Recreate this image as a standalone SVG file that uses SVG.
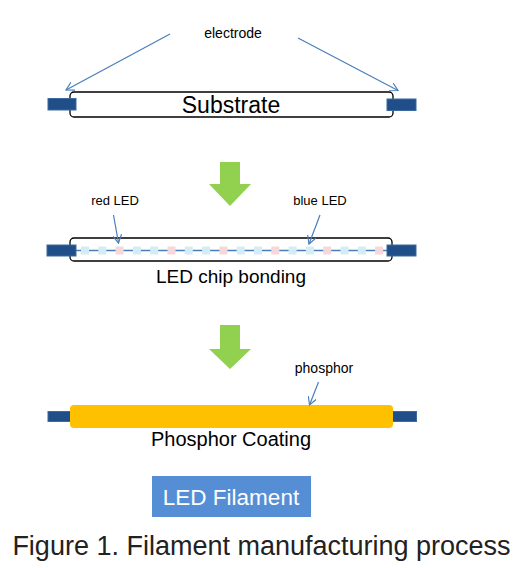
<svg xmlns="http://www.w3.org/2000/svg" width="518" height="568" viewBox="0 0 518 568">
<defs>
<marker id="arr" viewBox="0 0 10 10" refX="9" refY="5" markerWidth="9" markerHeight="9" markerUnits="userSpaceOnUse" orient="auto">
<path d="M0,0 L9,5 L0,10" fill="none" stroke="#4A7EBB" stroke-width="1.3"/>
</marker>
<style>
.t{font-family:"Liberation Sans",Arial,sans-serif;fill:#000;text-anchor:middle}
.sub{fill:#fff;stroke:#000;stroke-width:1.3}
.el{fill:#1F4E89;stroke:#3D6AA0;stroke-width:1}
.ln{stroke:#4A7EBB;stroke-width:1.2;fill:none}
.g{fill:#92D050}
.cb{fill:#D5ECF5}
.cr{fill:#F5D9DA}
</style>
</defs>
<rect width="518" height="568" fill="#fff"/>

<g id="substrate">
<rect class="sub" x="70" y="92" width="323" height="25" rx="4"/>
<rect class="el" x="48" y="98.5" width="28" height="11.5"/>
<rect class="el" x="387" y="99" width="29" height="11.5"/>
<text class="t" x="231" y="113" font-size="23">Substrate</text>
</g>

<g id="electrode-label">
<text class="t" x="233" y="38" font-size="14">electrode</text>
</g>

<g id="arrow1"><path class="g" d="M220,162 H240 V184 H251 L230,206 L209,184 H220 Z"/></g>

<g id="chip-bonding">
<rect class="sub" x="70" y="238" width="322" height="23" rx="4"/>
<line x1="76" y1="250.5" x2="387" y2="250.5" stroke="#4A7EBB" stroke-width="1.3"/>
<g>
<rect class="cb" x="81" y="246.5" width="8" height="8"/>
<rect class="cb" x="98.3" y="246.5" width="8" height="8"/>
<rect class="cr" x="115.6" y="246.5" width="8" height="8"/>
<rect class="cb" x="132.9" y="246.5" width="8" height="8"/>
<rect class="cb" x="150.2" y="246.5" width="8" height="8"/>
<rect class="cr" x="167.5" y="246.5" width="8" height="8"/>
<rect class="cb" x="184.8" y="246.5" width="8" height="8"/>
<rect class="cb" x="202.1" y="246.5" width="8" height="8"/>
<rect class="cr" x="219.4" y="246.5" width="8" height="8"/>
<rect class="cb" x="236.7" y="246.5" width="8" height="8"/>
<rect class="cb" x="254" y="246.5" width="8" height="8"/>
<rect class="cr" x="271.3" y="246.5" width="8" height="8"/>
<rect class="cb" x="288.6" y="246.5" width="8" height="8"/>
<rect class="cb" x="305.9" y="246.5" width="8" height="8"/>
<rect class="cr" x="323.2" y="246.5" width="8" height="8"/>
<rect class="cb" x="340.5" y="246.5" width="8" height="8"/>
<rect class="cb" x="357.8" y="246.5" width="8" height="8"/>
<rect class="cr" x="375.1" y="246.5" width="8" height="8"/>
</g>
<rect class="el" x="47" y="245" width="29" height="11"/>
<rect class="el" x="387" y="245" width="29" height="11"/>
<text class="t" x="231" y="283" font-size="19">LED chip bonding</text>
<text class="t" x="115" y="205" font-size="13">red LED</text>
<text class="t" x="320" y="205" font-size="13">blue LED</text>
</g>

<g id="arrow2"><path class="g" d="M220,325 H240 V349 H251 L230,369 L209,349 H220 Z"/></g>

<g id="phosphor-coating">
<rect class="el" x="48" y="411.5" width="24" height="10"/>
<rect class="el" x="390" y="411.5" width="26.5" height="10"/>
<rect x="70" y="405" width="323" height="23" rx="4" fill="#FFC000"/>
<text class="t" x="231" y="446" font-size="20">Phosphor Coating</text>
<text class="t" x="324" y="373" font-size="14">phosphor</text>
</g>

<g id="led-filament">
<rect x="152" y="476" width="159" height="41" fill="#558ED5"/>
<text class="t" x="231" y="505" font-size="22.5" style="fill:#fff">LED Filament</text>
</g>

<g id="caption">
<text class="t" x="261.5" y="555" font-size="27" style="fill:#222">Figure 1. Filament manufacturing process</text>
</g>

<g id="connectors">
<line class="ln" x1="170" y1="34" x2="66" y2="90" marker-end="url(#arr)"/>
<line class="ln" x1="298" y1="38" x2="398" y2="90.5" marker-end="url(#arr)"/>
<line class="ln" x1="113.5" y1="215" x2="118.5" y2="243" marker-end="url(#arr)"/>
<line class="ln" x1="320" y1="215" x2="309" y2="244" marker-end="url(#arr)"/>
<line class="ln" x1="318.5" y1="382" x2="309.5" y2="405" marker-end="url(#arr)"/>
</g>
</svg>
